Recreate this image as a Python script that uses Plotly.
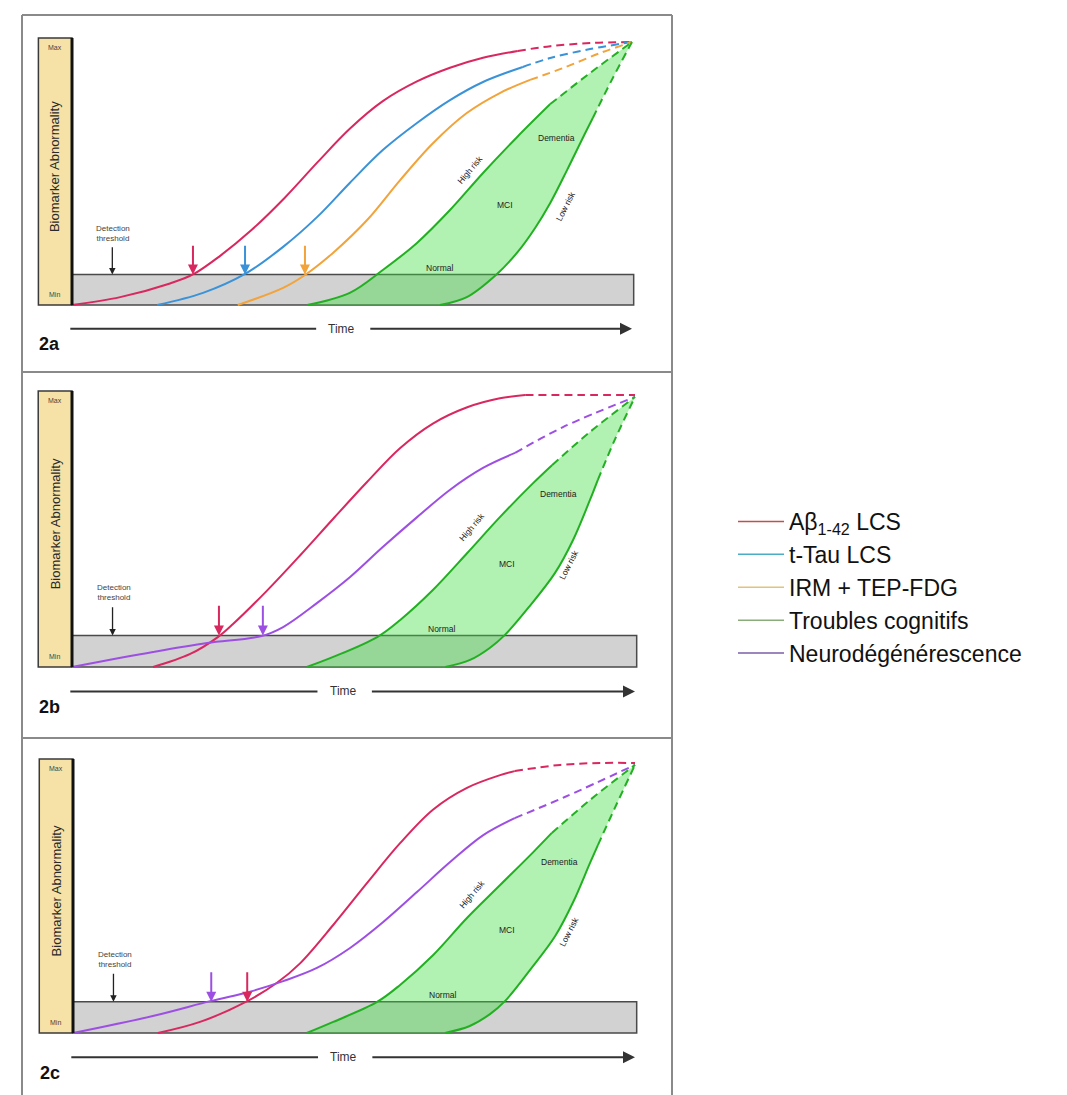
import plotly.graph_objects as go

# ---------------- DATA (time 0-100, biomarker abnormality 0-100) ----------------
THRESHOLD = 11.6

# Panel 2a
a_abeta_x = [0, 8.6, 17.5, 21.6, 26.4, 32.1, 38.0, 43.9, 49.6, 55.5, 61.6, 67.5, 73.4, 79.6, 85.4, 92.5, 100]
a_abeta_y = [0, 3.0, 8.2, 11.6, 18.6, 28.6, 40.8, 54.4, 67.0, 77.5, 85.0, 90.2, 94.0, 96.6, 98.4, 99.6, 100]
a_tau_x = [15.2, 23.4, 30.9, 37.7, 43.8, 49.6, 55.5, 61.6, 67.5, 73.4, 80.5, 85.4, 92.5, 100]
a_tau_y = [0, 4.6, 11.8, 22.1, 33.5, 46.4, 58.9, 69.2, 77.9, 84.8, 90.5, 93.9, 97.3, 100]
a_img_x = [29.6, 37.7, 41.6, 46.6, 52.7, 58.6, 64.5, 70.5, 76.4, 81.8, 87.7, 94.3, 100]
a_img_y = [0, 6.5, 11.4, 19.8, 32.3, 47.5, 61.6, 73.0, 80.6, 85.6, 90.1, 95.8, 100]
a_high_x = [42.0, 49.6, 55.5, 61.6, 67.5, 73.4, 79.5, 85.4, 92.5, 100]
a_high_y = [0, 4.6, 13.3, 23.6, 36.1, 50.2, 63.9, 76.4, 88.2, 100]
a_low_x = [65.7, 70.5, 75.9, 79.6, 82.7, 85.4, 88.4, 91.3, 93.0, 96.4, 100]
a_low_y = [0, 3.0, 11.8, 20.2, 29.3, 38.8, 51.3, 63.9, 71.1, 85.6, 100]

# Panel 2b
b_abeta_x = [14.4, 21.0, 25.9, 28.6, 34.6, 40.5, 46.4, 52.4, 58.3, 64.1, 70.2, 76.0, 80.5, 90.2, 100]
b_abeta_y = [0, 4.8, 11.0, 15.8, 28.0, 41.0, 54.5, 68.0, 80.5, 89.5, 95.5, 98.8, 100, 100, 100]
b_neuro_x = [0, 14.4, 24.0, 33.7, 37.5, 43.5, 49.4, 55.2, 61.3, 67.1, 73.0, 78.7, 87.2, 100]
b_neuro_y = [0, 5.5, 8.8, 11.4, 14.7, 23.5, 33.1, 44.1, 55.1, 65.1, 73.2, 78.7, 88.2, 99.3]
b_high_x = [41.7, 46.4, 54.2, 58.3, 64.1, 70.2, 76.0, 81.9, 85.3, 92.0, 100]
b_high_y = [0, 3.7, 11.0, 17.3, 28.3, 41.9, 55.1, 67.6, 74.3, 86.4, 99.3]
b_low_x = [66.3, 70.7, 74.2, 76.9, 81.3, 85.8, 89.0, 92.0, 93.4, 96.4, 100]
b_low_y = [0, 2.6, 7.0, 11.8, 22.4, 34.6, 46.7, 61.4, 68.8, 83.5, 99.3]

# Panel 2c
c_abeta_x = [15.1, 22.6, 31.1, 36.3, 40.4, 46.3, 52.3, 58.2, 64.1, 70.1, 76.0, 78.6, 86.7, 93.8, 100]
c_abeta_y = [0, 4.1, 11.9, 18.6, 25.8, 40.0, 55.5, 70.3, 82.8, 90.8, 95.5, 97.0, 99.3, 100, 100]
c_neuro_x = [0, 14.2, 24.6, 31.5, 37.4, 43.4, 49.3, 55.2, 61.2, 67.1, 73.0, 78.6, 87.5, 100]
c_neuro_y = [0, 6.3, 11.9, 15.3, 19.2, 24.1, 31.5, 41.1, 52.2, 63.3, 73.3, 79.6, 87.4, 99.3]
c_high_x = [41.6, 46.3, 54.1, 58.2, 64.1, 70.1, 76.0, 81.9, 85.2, 92.0, 100]
c_high_y = [0, 4.1, 11.5, 17.8, 28.9, 42.6, 54.8, 67.0, 74.1, 86.3, 99.3]
c_low_x = [66.2, 70.6, 74.2, 76.9, 81.3, 85.8, 89.0, 92.0, 93.4, 96.4, 100]
c_low_y = [0, 2.6, 7.0, 11.9, 23.3, 35.9, 48.5, 63.0, 69.6, 83.3, 99.3]

# detection onset (arrow) positions on time axis
a_onsets = [21.6, 30.9, 41.6]          # Abeta, tau, imaging
b_onsets = [26.1, 33.9]                # Abeta, neurodegeneration
c_onsets = [31.0, 24.6]                # Abeta, neurodegeneration

panel_labels = ["2a", "2b", "2c"]
legend_names = ["Aβ<sub>1-42</sub> LCS", "t-Tau LCS", "IRM + TEP-FDG",
                "Troubles cognitifs", "Neurodégénérescence"]

# ---------------- STYLE ----------------
W, H = 1067, 1095
FONT = "Arial, Liberation Sans, sans-serif"
RED, BLUE, ORANGE, GREEN, PURPLE = "#d9275f", "#3a92d8", "#f2a33a", "#22b022", "#9d4fe3"
LEG_COLORS = ["#c0504d", "#4bacc6", "#e3c27a", "#8aab7a", "#7a5fa8"]
FILL = "rgba(60,220,60,0.40)"
FRAME_L, FRAME_R = 22, 672

# pixel geometry of each panel: box top/bottom, x of t=0 / t=100, y of min / max
GEOM = [
    dict(top=15, bot=372, X0=72, X100=632, Y0=305, Y100=42),
    dict(top=372, bot=738, X0=72, X100=635, Y0=667, Y100=395),
    dict(top=738, bot=1095, X0=73, X100=635, Y0=1033, Y100=763),
]

fig = go.Figure()
layout_axes = {}
shapes = []
annotations = []


def add_curve(xs, ys, k, color, ax, ay):
    """solid part up to index k, dashed afterwards"""
    fig.add_trace(go.Scatter(x=xs[:k + 1], y=ys[:k + 1], mode="lines",
                             line=dict(color=color, width=2, shape="spline"),
                             xaxis=ax, yaxis=ay, showlegend=False, hoverinfo="skip"))
    fig.add_trace(go.Scatter(x=xs[k:], y=ys[k:], mode="lines",
                             line=dict(color=color, width=2, shape="spline", dash="8px,5px"),
                             xaxis=ax, yaxis=ay, showlegend=False, hoverinfo="skip"))


def add_fill(hx, hy, lx, ly, ax, ay):
    fig.add_trace(go.Scatter(x=lx, y=ly, mode="lines", line=dict(width=0, shape="spline"),
                             xaxis=ax, yaxis=ay, showlegend=False, hoverinfo="skip"))
    fig.add_trace(go.Scatter(x=hx, y=hy, mode="lines", line=dict(width=0, shape="spline"),
                             fill="tonexty", fillcolor=FILL,
                             xaxis=ax, yaxis=ay, showlegend=False, hoverinfo="skip"))


panels = [
    dict(curves=[(a_abeta_x, a_abeta_y, 13, RED), (a_tau_x, a_tau_y, 10, BLUE),
                 (a_img_x, a_img_y, 9, ORANGE)],
         high=(a_high_x, a_high_y, 7), low=(a_low_x, a_low_y, 8),
         arrows=list(zip(a_onsets, [RED, BLUE, ORANGE]))),
    dict(curves=[(b_abeta_x, b_abeta_y, 12, RED), (b_neuro_x, b_neuro_y, 11, PURPLE)],
         high=(b_high_x, b_high_y, 8), low=(b_low_x, b_low_y, 8),
         arrows=list(zip(b_onsets, [RED, PURPLE]))),
    dict(curves=[(c_abeta_x, c_abeta_y, 11, RED), (c_neuro_x, c_neuro_y, 11, PURPLE)],
         high=(c_high_x, c_high_y, 8), low=(c_low_x, c_low_y, 8),
         arrows=list(zip(c_onsets, [RED, PURPLE]))),
]

for i, (g, p) in enumerate(zip(GEOM, panels)):
    n = "" if i == 0 else str(i + 1)
    ax, ay = "x" + n, "y" + n
    sx = (g["X100"] - g["X0"]) / 100.0
    sy = (g["Y0"] - g["Y100"]) / 100.0
    layout_axes["xaxis" + n] = dict(domain=[FRAME_L / W, FRAME_R / W],
                                    range=[(FRAME_L - g["X0"]) / sx, (FRAME_R - g["X0"]) / sx],
                                    visible=False, fixedrange=True, anchor=ay)
    layout_axes["yaxis" + n] = dict(domain=[1 - g["bot"] / H, 1 - g["top"] / H],
                                    range=[(g["Y0"] - g["bot"]) / sy, (g["Y0"] - g["top"]) / sy],
                                    visible=False, fixedrange=True, anchor=ax)
    xr, yr = ax, ay

    # threshold band
    shapes.append(dict(type="rect", xref=xr, yref=yr, x0=0, x1=100.3, y0=0, y1=THRESHOLD,
                       fillcolor="#d2d2d2", line=dict(color="#4a4a4a", width=1.5), layer="below"))
    # yellow axis bar
    shapes.append(dict(type="rect", xref=xr, yref=yr, x0=-6.0, x1=0, y0=0, y1=101.5,
                       fillcolor="#f6e2a6", line=dict(color="#3a3a3a", width=1.5), layer="below"))
    shapes.append(dict(type="line", xref=xr, yref=yr, x0=0, x1=0, y0=0, y1=101.5,
                       line=dict(color="#111", width=3)))
    # time axis
    shapes.append(dict(type="line", xref=xr, yref=yr, x0=-0.3, x1=43.6, y0=-9, y1=-9,
                       line=dict(color="#333", width=2)))
    annotations.append(dict(x=100, y=-9, ax=53.0, ay=-9, xref=xr, yref=yr, axref=xr, ayref=yr,
                            showarrow=True, arrowhead=2, arrowsize=1.2, arrowwidth=2,
                            arrowcolor="#333", text=""))
    annotations.append(dict(x=48.2, y=-9, xref=xr, yref=yr, text="Time", showarrow=False,
                            font=dict(size=12, color="#333", family=FONT)))
    annotations.append(dict(x=-6.3, y=-14.8, xref=xr, yref=yr, text="<b>%s</b>" % panel_labels[i],
                            showarrow=False, xanchor="left",
                            font=dict(size=18, color="#111", family=FONT)))
    # y-bar labels
    annotations.append(dict(x=-3.1, y=98, xref=xr, yref=yr, text="Max", showarrow=False,
                            font=dict(size=7, color="#444", family=FONT)))
    annotations.append(dict(x=-3.1, y=4, xref=xr, yref=yr, text="Min", showarrow=False,
                            font=dict(size=7, color="#444", family=FONT)))
    annotations.append(dict(x=-3.0, y=52.5, xref=xr, yref=yr, text="Biomarker Abnormality",
                            textangle=-90, showarrow=False,
                            font=dict(size=13, color="#2a2a2a", family=FONT)))
    # detection threshold
    annotations.append(dict(x=7.4, y=27.3, xref=xr, yref=yr, text="Detection<br>threshold",
                            showarrow=False, font=dict(size=8, color="#444", family=FONT)))
    annotations.append(dict(x=7.2, y=THRESHOLD, ax=7.2, ay=22.5, xref=xr, yref=yr, axref=xr, ayref=yr,
                            showarrow=True, arrowhead=2, arrowsize=1, arrowwidth=1.3,
                            arrowcolor="#222", text=""))
    # onset arrows
    for ox, col in p["arrows"]:
        annotations.append(dict(x=ox, y=THRESHOLD, ax=ox, ay=THRESHOLD + 11.5, xref=xr, yref=yr,
                                axref=xr, ayref=yr, showarrow=True, arrowhead=2, arrowsize=1,
                                arrowwidth=2, arrowcolor=col, text=""))
    # clinical region labels
    for tx, txx, tyy, ang in [("Dementia", 86.5, 63.5, 0), ("High risk", 71.0, 51.5, -50),
                              ("MCI", 77.3, 38.0, 0), ("Low risk", 88.2, 37.5, -63),
                              ("Normal", 65.8, 14.0, 0)]:
        annotations.append(dict(x=txx, y=tyy, xref=xr, yref=yr, text=tx, textangle=ang,
                                showarrow=False, font=dict(size=8.5, color="#222", family=FONT)))

    # curves
    hx, hy, hk = p["high"]
    lx, ly, lk = p["low"]
    add_fill(hx, hy, lx, ly, ax, ay)
    for xs, ys, k, col in p["curves"]:
        add_curve(xs, ys, k, col, ax, ay)
    add_curve(hx, hy, hk, GREEN, ax, ay)
    add_curve(lx, ly, lk, GREEN, ax, ay)

# frame lines (paper coordinates)
def px(x):
    return x / W


def py(y):
    return 1 - y / H


for y in [15, 372, 738]:
    shapes.append(dict(type="line", xref="paper", yref="paper", x0=px(FRAME_L), x1=px(FRAME_R),
                       y0=py(y), y1=py(y), line=dict(color="#8a8a8a", width=2)))
for x in [FRAME_L, FRAME_R]:
    shapes.append(dict(type="line", xref="paper", yref="paper", x0=px(x), x1=px(x),
                       y0=py(15), y1=py(H), line=dict(color="#8a8a8a", width=2)))

# legend-only traces
for name, col in zip(legend_names, LEG_COLORS):
    fig.add_trace(go.Scatter(x=[None], y=[None], mode="lines", name=name,
                             line=dict(color=col, width=1.5), legendgroup=name,
                             xaxis="x", yaxis="y"))

fig.update_layout(
    width=W, height=H, margin=dict(l=0, r=0, t=0, b=0),
    paper_bgcolor="white", plot_bgcolor="white",
    shapes=shapes, annotations=annotations,
    showlegend=True,
    legend=dict(x=px(733), y=py(500), xanchor="left", yanchor="top",
                bgcolor="rgba(0,0,0,0)", font=dict(size=23, color="#111", family=FONT),
                tracegroupgap=0, itemwidth=46),
    **layout_axes,
)

fig.write_html("out.html")
